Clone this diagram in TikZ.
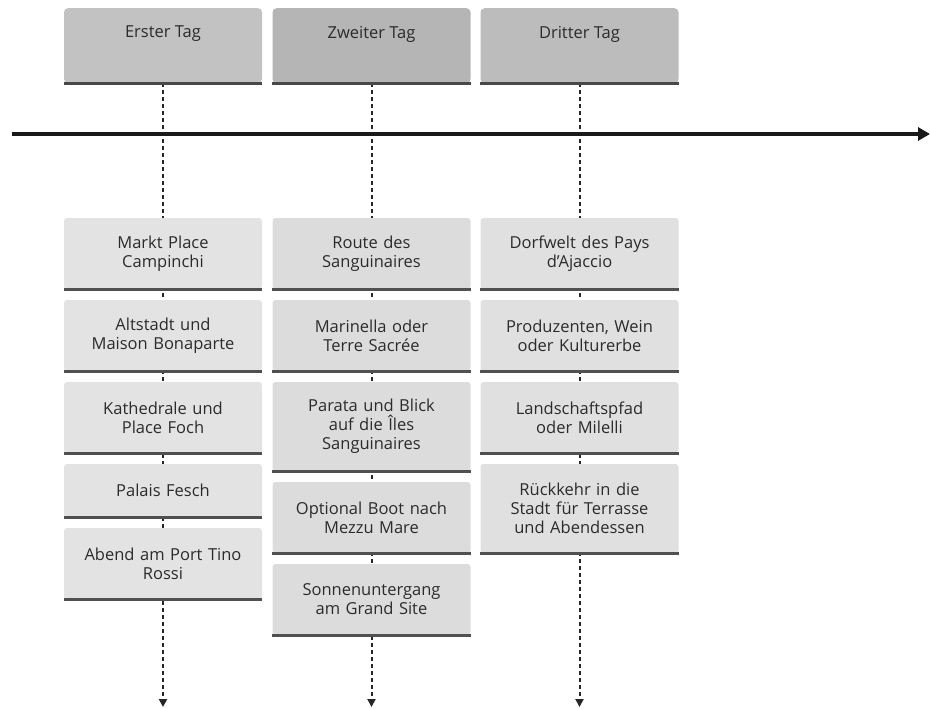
\documentclass[tikz,border=0pt]{standalone}
\usepackage{fontspec}
\setmainfont{Open Sans}
\usetikzlibrary{arrows.meta,backgrounds}
\definecolor{txt}{HTML}{2B2B2B}
\definecolor{lineclr}{HTML}{505050}
\definecolor{hA}{HTML}{C2C2C2}
\definecolor{hB}{HTML}{B5B5B5}
\definecolor{hC}{HTML}{BCBCBC}
\definecolor{cA}{HTML}{E3E3E3}
\definecolor{cB}{HTML}{DCDCDC}
\definecolor{cC}{HTML}{E0E0E0}
\tikzset{
  hdrbox/.style={fill=#1, rounded corners=4pt, minimum width=198pt, minimum height=75pt, inner sep=0pt, anchor=north},
  hdrtext/.style={text=txt, font=\fontsize{16.5}{19}\selectfont, inner sep=0pt},
  card/.style={fill=#1, rounded corners=3pt, minimum width=198pt, inner sep=0pt, text width=194pt, align=center, text=txt, font=\fontsize{16.5}{19}\selectfont},
  baseline/.style={draw=lineclr, line width=3pt},
  hdrline/.style={draw=lineclr!90!black, line width=2.5pt},
  tline/.style={draw=black!85, line width=2pt, dash pattern=on 4pt off 3pt, -{Triangle[length=8pt,width=8pt]}},
  mainarrow/.style={draw=black!90, line width=3.5pt, -{Triangle[length=12pt,width=13pt]}}
}
\begin{document}
\begin{tikzpicture}[x=1pt,y=-1pt]
\useasboundingbox (0,0) rectangle (930,709);
% headers
\node[hdrbox=hA] (h1) at (163,8) {};
\node[hdrbox=hB] (h2) at (371.5,8) {};
\node[hdrbox=hC] (h3) at (579.5,8) {};
\draw[hdrline] (h1.south west) -- (h1.south east);
\draw[hdrline] (h2.south west) -- (h2.south east);
\draw[hdrline] (h3.south west) -- (h3.south east);
\node[hdrtext] (t1) at (163,34) {Erster Tag};
\node[hdrtext] (t2) at (371.5,34) {Zweiter Tag};
\node[hdrtext] (t3) at (579.5,34) {Dritter Tag};
% main arrow
\coordinate (ms) at (12,134);
\coordinate (me) at (930,134);
% column 1
\node[card=cA, minimum height=71pt] (a1) at (163,253.5) {Markt Place\\Campinchi};
\node[card=cA, minimum height=71pt] (a2) at (163,335.5) {Altstadt und\\Maison Bonaparte};
\node[card=cA, minimum height=71pt] (a3) at (163,417.5) {Kathedrale und\\Place Foch};
\node[card=cA, minimum height=53pt] (a4) at (163,490.5) {Palais Fesch};
\node[card=cA, minimum height=71pt] (a5) at (163,563.5) {Abend am Port Tino\\Rossi};
% column 2
\node[card=cB, minimum height=71pt] (b1) at (371.5,253.5) {Route des\\Sanguinaires};
\node[card=cB, minimum height=71pt] (b2) at (371.5,335.5) {Marinella oder\\Terre Sacrée};
\node[card=cB, minimum height=89pt] (b3) at (371.5,426.5) {Parata und Blick\\auf die Îles\\Sanguinaires};
\node[card=cB, minimum height=71pt] (b4) at (371.5,517.5) {Optional Boot nach\\Mezzu Mare};
\node[card=cB, minimum height=71pt] (b5) at (371.5,599.5) {Sonnenuntergang\\am Grand Site};
% column 3
\node[card=cC, minimum height=71pt] (c1) at (579.5,253.5) {Dorfwelt des Pays\\d'Ajaccio};
\node[card=cC, minimum height=71pt] (c2) at (579.5,335.5) {Produzenten, Wein\\oder Kulturerbe};
\node[card=cC, minimum height=71pt] (c3) at (579.5,417.5) {Landschaftspfad\\oder Milelli};
\node[card=cC, minimum height=89pt] (c4) at (579.5,508.5) {Rückkehr in die\\Stadt für Terrasse\\und Abendessen};
\foreach \n in {a1,a2,a3,a4,a5,b1,b2,b3,b4,b5,c1,c2,c3,c4}
  \draw[baseline] (\n.south west) -- (\n.south east);
% timeline ends
\coordinate (e1) at (163,707);
\coordinate (e2) at (371.5,707);
\coordinate (e3) at (579.5,707);
\begin{scope}[on background layer]
\draw[tline] (h1.south) -- (e1);
\draw[tline] (h2.south) -- (e2);
\draw[tline] (h3.south) -- (e3);
\end{scope}
\draw[mainarrow] (ms) -- (me);
\end{tikzpicture}
\end{document}
